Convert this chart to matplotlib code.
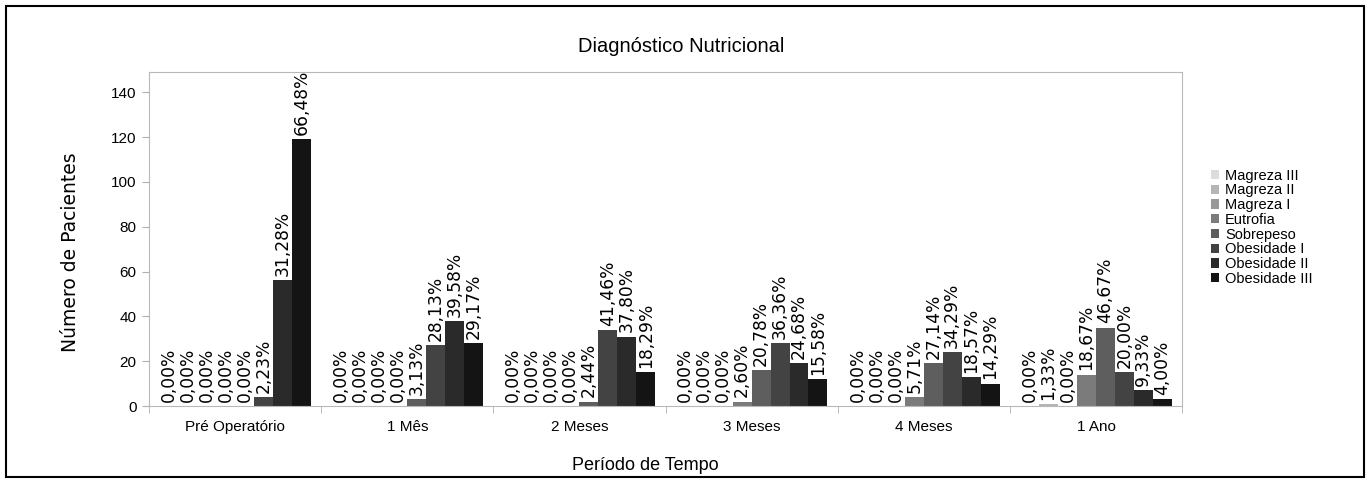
import matplotlib
matplotlib.use("Agg")
import matplotlib.pyplot as plt
import numpy as np
from matplotlib.patches import Rectangle

categories = ["Pré Operatório", "1 Mês", "2 Meses", "3 Meses", "4 Meses", "1 Ano"]
series = ["Magreza III", "Magreza II", "Magreza I", "Eutrofia", "Sobrepeso",
          "Obesidade I", "Obesidade II", "Obesidade III"]
# counts per series across periods
magreza3 = [0, 0, 0, 0, 0, 0]
magreza2 = [0, 0, 0, 0, 0, 1]
magreza1 = [0, 0, 0, 0, 0, 0]
eutrofia = [0, 0, 0, 2, 4, 14]
sobrepeso = [0, 3, 2, 16, 19, 35]
obesidade1 = [4, 27, 34, 28, 24, 15]
obesidade2 = [56, 38, 31, 19, 13, 7]
obesidade3 = [119, 28, 15, 12, 10, 3]
# percentage labels
pct_magreza3 = ["0,00%", "0,00%", "0,00%", "0,00%", "0,00%", "0,00%"]
pct_magreza2 = ["0,00%", "0,00%", "0,00%", "0,00%", "0,00%", "1,33%"]
pct_magreza1 = ["0,00%", "0,00%", "0,00%", "0,00%", "0,00%", "0,00%"]
pct_eutrofia = ["0,00%", "0,00%", "0,00%", "2,60%", "5,71%", "18,67%"]
pct_sobrepeso = ["0,00%", "3,13%", "2,44%", "20,78%", "27,14%", "46,67%"]
pct_obesidade1 = ["2,23%", "28,13%", "41,46%", "36,36%", "34,29%", "20,00%"]
pct_obesidade2 = ["31,28%", "39,58%", "37,80%", "24,68%", "18,57%", "9,33%"]
pct_obesidade3 = ["66,48%", "29,17%", "18,29%", "15,58%", "14,29%", "4,00%"]

values = [magreza3, magreza2, magreza1, eutrofia, sobrepeso, obesidade1, obesidade2, obesidade3]
labels = [pct_magreza3, pct_magreza2, pct_magreza1, pct_eutrofia, pct_sobrepeso,
          pct_obesidade1, pct_obesidade2, pct_obesidade3]
colors = ["#dcdcdc", "#b5b5b5", "#999999", "#7b7b7b", "#5e5e5e", "#434343", "#2a2a2a", "#141414"]

plt.rcParams['font.family'] = ['Liberation Sans', 'DejaVu Sans']

fig = plt.figure(figsize=(13.7, 4.83), dpi=100)
ax = fig.add_axes([0.1088, 0.1594, 0.754, 0.6915])

x = np.arange(len(categories))
n = len(series)
w = 0.11
for i, (vals, labs, c, name) in enumerate(zip(values, labels, colors, series)):
    pos = x - (n / 2 - 0.5) * w + i * w
    ax.bar(pos, vals, width=w, color=c, label=name, edgecolor='none')
    for p, v, l in zip(pos, vals, labs):
        ax.annotate(l, (p, v), xytext=(0, 3), textcoords='offset points',
                    rotation=90, ha='center', va='bottom', fontsize=12.3,
                    family='DejaVu Sans', color='black')

ax.set_xlim(-0.5, len(categories) - 0.5)
ax.set_ylim(0, 149)
ax.set_yticks(range(0, 141, 20))
ax.set_xticks(x)
ax.set_xticklabels(categories, fontsize=11)
ax.set_xticks(np.arange(-0.5, len(categories), 1), minor=True)
ax.tick_params(axis='x', which='major', length=0, pad=10)
ax.tick_params(axis='x', which='minor', length=5, color='#b0b0b0', direction='out')
ax.tick_params(axis='y', length=5, color='#b0b0b0', labelsize=11, pad=4)
for s in ax.spines.values():
    s.set_color('#b8b8b8')
    s.set_linewidth(0.8)

fig.text(70 / 1370, 1 - 252 / 483, "Número de Pacientes", rotation=90, ha='center', va='center',
         fontsize=13.5, family='DejaVu Sans')
fig.text(645 / 1370, 1 - 465 / 483, "Período de Tempo", ha='center', va='center', fontsize=13)
fig.text(681 / 1370, 1 - 46 / 483, "Diagnóstico Nutricional", ha='center', va='center', fontsize=14.5)

leg = ax.legend(loc='center left', bbox_to_anchor=(1.015, 0.535), frameon=False,
                fontsize=10.5, handlelength=0.6, handleheight=0.6, handletextpad=0.4,
                labelspacing=0.05)

fig.patches.append(Rectangle((0.0045, 0.012), 0.991, 0.976, transform=fig.transFigure,
                             fill=False, edgecolor='black', linewidth=1.5))

fig.savefig("out.png", dpi=100)
